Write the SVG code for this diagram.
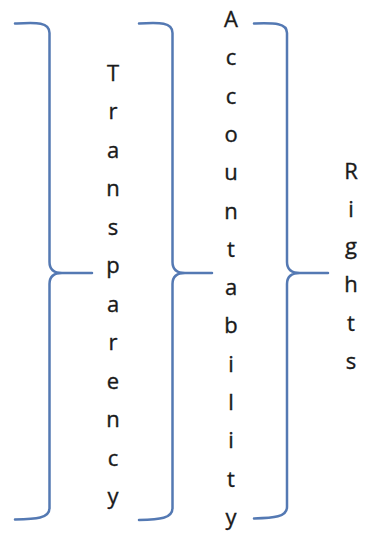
<svg xmlns="http://www.w3.org/2000/svg" width="374" height="541" viewBox="0 0 374 541">
<defs>
<style>
.br{fill:none;stroke:#5479b3;stroke-width:2.5;stroke-linecap:round;stroke-linejoin:round}
.t{font-family:"Open Sans","Liberation Sans",sans-serif;font-size:22px;fill:#1a1a1a;stroke:#1a1a1a;stroke-width:0.35;text-anchor:middle}
</style>
</defs>
<rect width="374" height="541" fill="#ffffff"/>
<g id="connectors">
<path class="br" d="M15,23.5 C36,22.5 49.5,21.5 49.5,33 L49.5,262 C49.5,270 54,273 62,273 L92,273 M62,273 C54,273 49.5,276 49.5,284 L49.5,508 C49.5,518.5 36,519 15,519.5"/>
<path class="br" d="M139,23.5 C160,22.5 172.5,22 172.5,33 L172.5,262 C172.5,270 177,273 185,273 L212,273 M185,273 C177,273 172.5,276 172.5,284 L172.5,508 C172.5,518.5 160,519.5 139,520"/>
<path class="br" d="M254,23.5 C274,23 287,22.5 287,33 L287,262 C287,270 292,273 300,273 L328,273 M300,273 C292,273 287,276 287,284 L287,507 C287,517 274,518 254,518.5"/>
</g>
<g id="transparency">
<text class="t" x="113" y="81">T</text>
<text class="t" x="113" y="119">r</text>
<text class="t" x="113" y="157.5">a</text>
<text class="t" x="113" y="196">n</text>
<text class="t" x="113" y="234.5">s</text>
<text class="t" x="113" y="273">p</text>
<text class="t" x="113" y="311.5">a</text>
<text class="t" x="113" y="350">r</text>
<text class="t" x="113" y="388.5">e</text>
<text class="t" x="113" y="427">n</text>
<text class="t" x="113" y="465.5">c</text>
<text class="t" x="113" y="504">y</text>
</g>
<g id="accountability">
<text class="t" x="231" y="27">A</text>
<text class="t" x="231" y="65.3">c</text>
<text class="t" x="231" y="103.6">c</text>
<text class="t" x="231" y="141.9">o</text>
<text class="t" x="231" y="180.2">u</text>
<text class="t" x="231" y="218.5">n</text>
<text class="t" x="231" y="256.8">t</text>
<text class="t" x="231" y="295.1">a</text>
<text class="t" x="231" y="333.4">b</text>
<text class="t" x="231" y="371.7">i</text>
<text class="t" x="231" y="410">l</text>
<text class="t" x="231" y="448.3">i</text>
<text class="t" x="231" y="486.6">t</text>
<text class="t" x="231" y="524.9">y</text>
</g>
<g id="rights">
<text class="t" x="351" y="179">R</text>
<text class="t" x="351" y="217">i</text>
<text class="t" x="351" y="254">g</text>
<text class="t" x="351" y="292">h</text>
<text class="t" x="351" y="331">t</text>
<text class="t" x="351" y="369">s</text>
</g>
</svg>
